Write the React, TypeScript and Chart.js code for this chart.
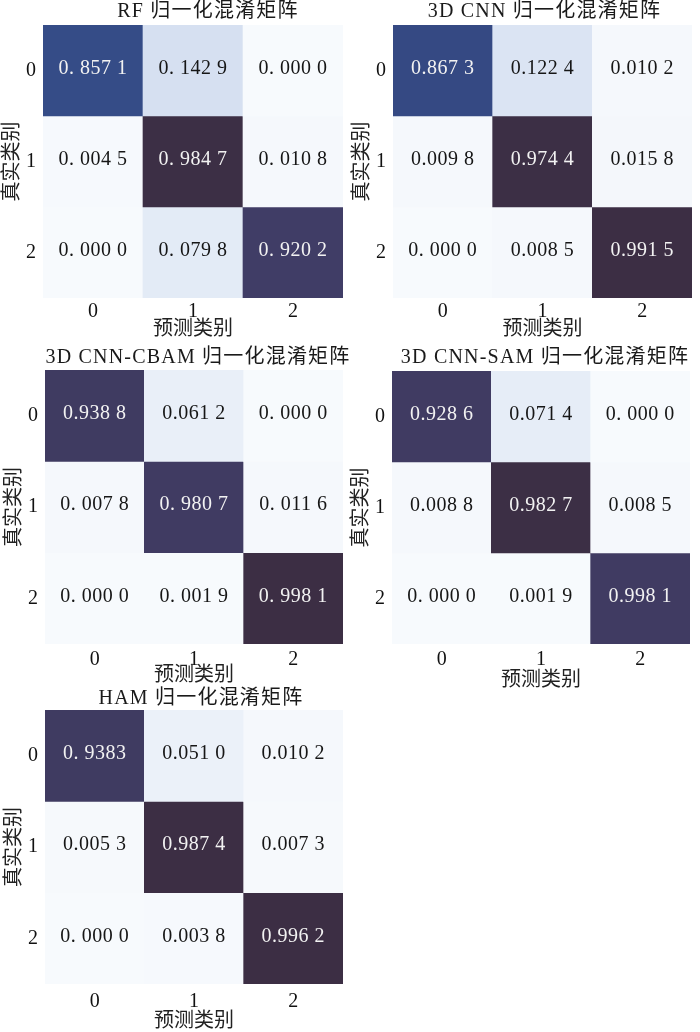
import { useEffect, useRef } from 'react';
import { Chart, registerables } from 'chart.js';

Chart.register(...registerables);

// ---------- data ----------
const predictedLabels = ['0', '1', '2'];
const trueLabels = ['0', '1', '2'];
const xAxisTitle = '预测类别';
const yAxisTitle = '真实类别';

const rfTitle = 'RF 归一化混淆矩阵';
const rfCells = ['0. 857 1', '0. 142 9', '0. 000 0', '0. 004 5', '0. 984 7', '0. 010 8', '0. 000 0', '0. 079 8', '0. 920 2'];
const rfShade = [0.857, 0.143, 0.0, 0.0045, 0.985, 0.011, 0.0, 0.08, 0.92];

const cnnTitle = '3D CNN 归一化混淆矩阵';
const cnnCells = ['0.867 3', '0.122 4', '0.010 2', '0.009 8', '0.974 4', '0.015 8', '0. 000 0', '0.008 5', '0.991 5'];
const cnnShade = [0.867, 0.122, 0.01, 0.0098, 0.985, 0.0158, 0.0, 0.0085, 0.99];

const cbamTitle = '3D CNN-CBAM 归一化混淆矩阵';
const cbamCells = ['0.938 8', '0.061 2', '0. 000 0', '0. 007 8', '0. 980 7', '0. 011 6', '0. 000 0', '0. 001 9', '0. 998 1'];
const cbamShade = [0.94, 0.061, 0.0, 0.0078, 0.935, 0.0116, 0.0, 0.0019, 0.99];

const samTitle = '3D CNN-SAM 归一化混淆矩阵';
const samCells = ['0.928 6', '0.071 4', '0. 000 0', '0.008 8', '0.982 7', '0.008 5', '0. 000 0', '0.001 9', '0.998 1'];
const samShade = [0.935, 0.071, 0.0, 0.0088, 0.985, 0.0085, 0.0, 0.0019, 0.935];

const hamTitle = 'HAM 归一化混淆矩阵';
const hamCells = ['0. 9383', '0.051 0', '0.010 2', '0.005 3', '0.987 4', '0.007 3', '0. 000 0', '0.003 8', '0.996 2'];
const hamShade = [0.94, 0.051, 0.0102, 0.0053, 0.987, 0.0073, 0.0, 0.0038, 0.99];

// ---------- style ----------
const FONT = '"Liberation Serif", "Noto Sans CJK SC", serif';

const colorStops: [number, number[]][] = [
  [0.0, [247, 250, 253]],
  [0.02, [243, 246, 251]],
  [0.06, [233, 239, 248]],
  [0.08, [227, 235, 246]],
  [0.13, [217, 227, 242]],
  [0.15, [213, 223, 240]],
  [0.86, [52, 75, 135]],
  [0.92, [64, 61, 102]],
  [0.95, [63, 58, 95]],
  [0.97, [59, 47, 69]],
  [1.0, [60, 46, 68]],
];

function shadeColor(t: number): string {
  for (let i = 1; i < colorStops.length; i++) {
    const [t1, c1] = colorStops[i];
    const [t0, c0] = colorStops[i - 1];
    if (t <= t1) {
      const f = (t - t0) / (t1 - t0 || 1);
      const c = c0.map((v, k) => Math.round(v + (c1[k] - v) * f));
      return `rgb(${c[0]},${c[1]},${c[2]})`;
    }
  }
  const c = colorStops[colorStops.length - 1][1];
  return `rgb(${c[0]},${c[1]},${c[2]})`;
}

type PanelCfg = {
  title: string;
  cells: string[];
  shade: number[];
  area: [number, number, number, number];
  titleDx: number;
  titleY: number;
  tickY: number;
  xTitleY: number;
};

const panels: PanelCfg[] = [
  { title: rfTitle, cells: rfCells, shade: rfShade, area: [43, 25, 343, 298], titleDx: 15, titleY: 12, tickY: 312, xTitleY: 330 },
  { title: cnnTitle, cells: cnnCells, shade: cnnShade, area: [393, 25, 692, 298], titleDx: 2, titleY: 12, tickY: 312, xTitleY: 330 },
  { title: cbamTitle, cells: cbamCells, shade: cbamShade, area: [45, 370, 343, 644], titleDx: 4, titleY: 358, tickY: 660, xTitleY: 676 },
  { title: samTitle, cells: samCells, shade: samShade, area: [392, 371, 690, 644], titleDx: 4, titleY: 358, tickY: 660, xTitleY: 681 },
  { title: hamTitle, cells: hamCells, shade: hamShade, area: [45, 710, 343, 984], titleDx: 7, titleY: 699, tickY: 1002, xTitleY: 1022 },
];

const cellLabelPlugin = {
  id: 'cellLabels',
  afterDatasetsDraw(chart: any) {
    const ctx = chart.ctx;
    ctx.save();
    ctx.font = `20px ${FONT}`;
    (ctx as any).letterSpacing = '0.5px';
    ctx.textAlign = 'center';
    ctx.textBaseline = 'middle';
    chart.data.datasets.forEach((ds: any, i: number) => {
      const meta = chart.getDatasetMeta(i);
      meta.data.forEach((el: any, j: number) => {
        const txt = ds.cellText[j];
        const dark = ds.cellShade[j] > 0.5;
        ctx.fillStyle = dark ? '#f2f2f2' : '#161616';
        const cy = (el.y + el.base) / 2;
        ctx.fillText(txt, el.x, cy - 2);
      });
    });
    ctx.restore();
  },
};

const panelTitlePlugin = {
  id: 'panelTitle',
  afterDraw(chart: any, _args: any, opts: any) {
    const ctx = chart.ctx;
    const area = chart.chartArea;
    ctx.save();
    ctx.font = `20px ${FONT}`;
    (ctx as any).letterSpacing = '1.2px';
    ctx.textAlign = 'center';
    ctx.textBaseline = 'middle';
    ctx.fillStyle = '#1a1a1a';
    ctx.fillText(opts.text, (area.left + area.right) / 2 + opts.dx, opts.y);
    ctx.restore();
  },
};

function HeatPanel({ p }: { p: PanelCfg }) {
  const ref = useRef<HTMLCanvasElement>(null);
  const [l, t, r, b] = p.area;
  const yAxisW = 43;
  const padTop = 25;
  const padRight = 6;
  const cl = l - yAxisW;
  const ct = t - padTop;
  const cw = r + padRight - cl;
  const xAxisH = p.xTitleY + 14 - b;
  const ch = b - ct + xAxisH;

  useEffect(() => {
    if (!ref.current) return;
    const datasets = trueLabels.map((_, row) => ({
      data: predictedLabels.map(() => [row, row + 1]),
      backgroundColor: predictedLabels.map((__, col) => shadeColor(p.shade[row * 3 + col])),
      borderWidth: 0,
      barPercentage: 1,
      categoryPercentage: 1,
      grouped: false,
      cellText: predictedLabels.map((__, col) => p.cells[row * 3 + col]),
      cellShade: predictedLabels.map((__, col) => p.shade[row * 3 + col]),
      cellValue: predictedLabels.map((__, col) => parseFloat(p.cells[row * 3 + col].replace(/\s+/g, ''))),
    }));
    const chart = new Chart(ref.current, {
      type: 'bar',
      data: { labels: predictedLabels, datasets: datasets as any },
      options: {
        responsive: false,
        animation: false,
        devicePixelRatio: 1,
        layout: { padding: { top: padTop, right: padRight, left: 0, bottom: 0 } },
        plugins: {
          legend: { display: false },
          tooltip: { enabled: false },
          title: { display: false },
          panelTitle: { text: p.title, dx: p.titleDx, y: p.titleY - ct },
        } as any,
        scales: {
          x: {
            type: 'category',
            position: 'bottom',
            offset: true,
            grid: { display: false, drawTicks: false },
            border: { display: false },
            ticks: {
              padding: p.tickY - b - 12,
              color: '#111',
              font: { family: FONT, size: 20 },
            },
            title: {
              display: true,
              text: xAxisTitle,
              color: '#222',
              font: { family: FONT, size: 20 },
              padding: { top: 0, bottom: 2 },
            },
            afterFit: (s: any) => {
              s.height = xAxisH;
            },
          },
          y: {
            type: 'linear',
            min: 0,
            max: 3,
            reverse: true,
            grid: { display: false, drawTicks: false },
            border: { display: false },
            afterBuildTicks: (s: any) => {
              s.ticks = trueLabels.map((__, i) => ({ value: i + 0.5 }));
            },
            ticks: {
              padding: 7,
              color: '#111',
              font: { family: FONT, size: 20 },
              callback: (v: any) => trueLabels[Math.floor(Number(v))],
            },
            title: {
              display: true,
              text: yAxisTitle,
              color: '#222',
              font: { family: FONT, size: 20 },
              padding: { top: 1, bottom: 0 },
            },
            afterFit: (s: any) => {
              s.width = yAxisW;
            },
          },
        } as any,
      },
      plugins: [cellLabelPlugin, panelTitlePlugin],
    });
    return () => chart.destroy();
  }, []);

  return (
    <canvas
      ref={ref}
      width={cw}
      height={ch}
      style={{ position: 'absolute', left: cl, top: ct, width: cw, height: ch }}
    />
  );
}

export default function App() {
  return (
    <div style={{ position: 'absolute', left: 0, top: 0, width: 700, height: 1032, background: '#fff' }}>
      {panels.map((p, i) => (
        <HeatPanel key={i} p={p} />
      ))}
    </div>
  );
}
